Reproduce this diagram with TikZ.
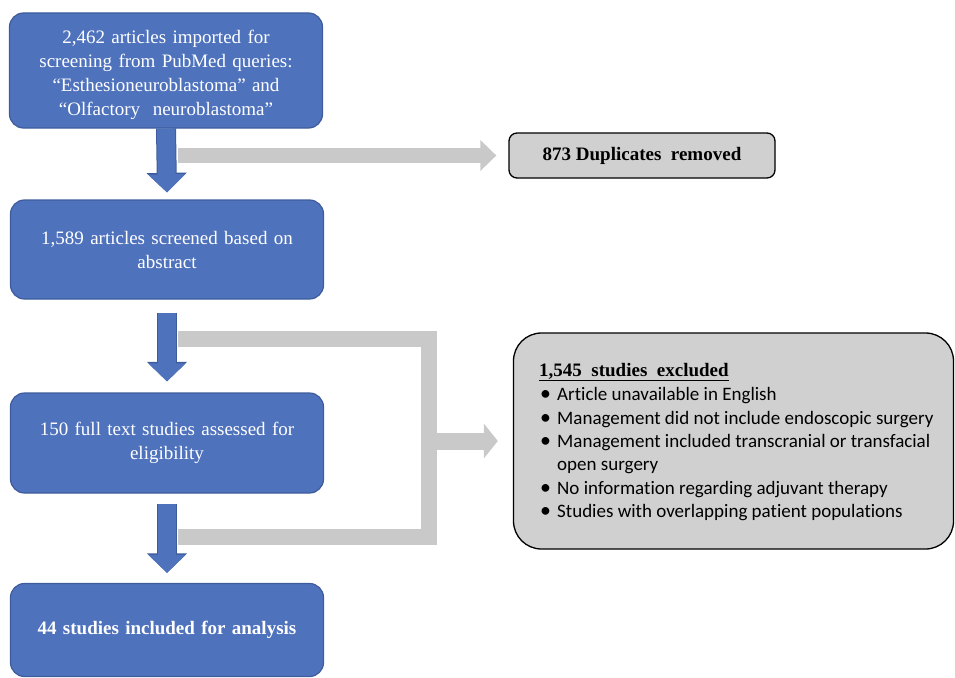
\documentclass[tikz,border=0pt]{standalone}
\usepackage{fontspec}
\setmainfont{Liberation Serif}
\newfontfamily\calfont[Ligatures=NoCommon]{Carlito}
\usetikzlibrary{arrows.meta,calc}
\definecolor{boxblue}{HTML}{4F72BD}
\definecolor{edgeblue}{HTML}{3E5C9C}
\definecolor{arrgray}{HTML}{C9C9C9}
\definecolor{boxgray}{HTML}{D0D0D0}
\newcommand\bul{\makebox[17pt][l]{\hspace{0pt}\scalebox{1.15}{\textbullet}}}
\begin{document}
\begin{tikzpicture}[x=1pt,y=-1pt,
  bluebox/.style={draw=edgeblue, line width=1.2pt, fill=boxblue, rounded corners=14pt,
    minimum width=313pt, text=white, align=center, text width=300pt,
    font=\fontsize{19}{24}\selectfont, inner sep=0pt},
  boxtext/.style={text=white, align=center, text width=300pt,
    font=\fontsize{19}{24}\selectfont, inner sep=0pt},
  graybox/.style={draw=black, line width=1.3pt, fill=boxgray, inner sep=0pt},
  listline/.style={anchor=base west, inner sep=0pt, font=\calfont\fontsize{19}{23}\selectfont},
  barrow/.style={draw=boxblue, line width=18pt, -{Triangle[width=36pt,length=18pt]},
    preaction={draw=edgeblue, line width=20pt, -{Triangle[width=39pt,length=19.5pt]}}},
  garrow/.style={draw=arrgray, line width=15pt, -{Triangle[width=30pt,length=16pt]}},
  gline/.style={draw=arrgray, line width=16pt, miter limit=4},
  garrowb/.style={draw=arrgray, line width=17pt, -{Triangle[width=34pt,length=14pt]}}]
\useasboundingbox (0,0) rectangle (955,677);
% main boxes
\node[bluebox, minimum height=115pt] (b1) at (166,70.5) {};
\node[boxtext] (b1t) at (166,74.5)
  {2,462 articles imported for\\screening from PubMed queries:\\``Esthesioneuroblastoma'' and\\``Olfactory\ \ neuroblastoma''};
\node[bluebox, minimum height=99pt] (b2) at (167,249.5)
  {1,589 articles screened based on\\abstract};
\node[bluebox, minimum height=100pt] (b3) at (167,443)
  {150 full text studies assessed for\\eligibility};
\node[bluebox, minimum height=93pt, font=\fontsize{19}{24}\selectfont\bfseries] (b4) at (167,630)
  {44 studies included for analysis};
% side boxes
\node[graybox, rounded corners=8pt, minimum width=266pt, minimum height=45pt,
  font=\fontsize{19}{24}\selectfont\bfseries] (dup) at (642,155.5) {873 Duplicates\ \ removed};
\node[graybox, rounded corners=28pt, minimum width=440pt, minimum height=216pt] (excl) at (733.5,441) {};
\node[anchor=base west, inner sep=0pt, font=\fontsize{19}{23}\selectfont\bfseries] (eh) at (539,376)
  {\underline{1,545\ \ studies\ \ excluded}};
\node[listline] (e1) at (540,400.5) {\bul Article unavailable in English};
\node[listline] (e2) at (540,424) {\bul Management did not include endoscopic surgery};
\node[listline] (e3) at (540,447) {\bul Management included transcranial or transfacial};
\node[listline] (e3b) at (557,470) {open surgery};
\node[listline] (e4) at (540,494) {\bul No information regarding adjuvant therapy};
\node[listline] (e5) at (540,517) {\bul Studies with overlapping patient populations};
% blue arrows
\draw[barrow] (b1.south) -- ($(b2.north)+(0,-7)$);
\draw[barrow] ($(b2.south)+(0,13)$) -- ($(b3.north)+(0,-11)$);
\draw[barrow] ($(b3.south)+(0,10)$) -- ($(b4.north)+(0,-10)$);
% gray arrows
\coordinate (g1) at (178,155.5);
\draw[garrow] (g1) -- ($(dup.west)+(-12,0)$);
\coordinate (t1) at (178,339);
\coordinate (t2) at (429,339);
\coordinate (t3) at (429,537);
\coordinate (t4) at (178,537);
\coordinate (tm) at (429,441);
\draw[gline] (t1) -- (t2) -- (t3) -- (t4);
\draw[garrowb] (tm) -- ($(excl.west)+(-15,0)$);
\end{tikzpicture}
\end{document}
